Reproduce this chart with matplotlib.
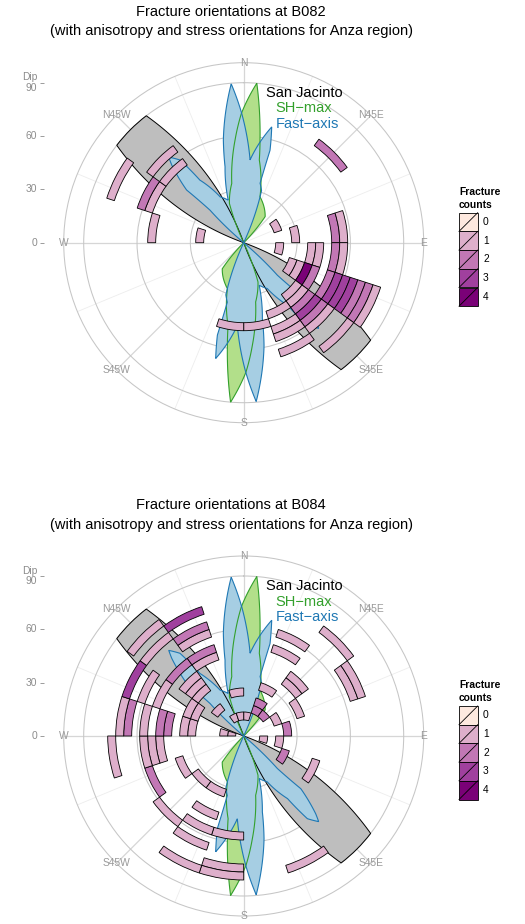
import matplotlib.pyplot as plt
import matplotlib.ticker as mticker
import numpy as np
from matplotlib.patches import Polygon, Rectangle

plt.rcParams['font.family'] = ['Liberation Sans', 'DejaVu Sans']

W_PX, H_PX = 525, 924
R_MAX = 101.25          # outer ring, 90 deg dip sits at 0.4/0.45 of it
STRIKE_BIN = 18.0
DIP_BIN = 4.5

count_levels = [0, 1, 2, 3, 4]
count_colors = ['#FEE9DF', '#DEAFCB', '#C277B5', '#A0409E', '#7A0177']

compass_deg = [0, 45, 90, 135, 180, 225, 270, 315]
compass_lab = ['N', 'N45E', 'E', 'S45E', 'S', 'S45W', 'W', 'N45W']
dip_breaks = [0, 30, 60, 90]
dip_labels = ['0', '30', '60', 'Dip\n90']

# binned fractures: lower edge of strike bin, lower edge of dip bin, count
b082_strike = [36, 54, 72, 72, 72, 90, 90, 90, 90, 90,
               108, 108, 108, 108, 108, 108, 108, 108, 108, 108, 108,
               126, 126, 126, 126, 126, 126, 126,
               144, 144, 144, 144, 162, 180,
               270, 270, 288, 288, 288, 306, 306]
b082_dip = [67.5, 18, 27, 49.5, 54, 18, 36, 40.5, 49.5, 54,
            27, 31.5, 36, 40.5, 49.5, 54, 58.5, 63, 67.5, 72, 76.5,
            36, 40.5, 45, 49.5, 54, 58.5, 72,
            40.5, 49.5, 54, 63, 45, 45,
            22.5, 49.5, 54, 58.5, 76.5, 54, 63]
b082_count = [2, 1, 1, 2, 1, 1, 1, 1, 2, 1,
              1, 1, 4, 2, 2, 3, 3, 3, 2, 2, 1,
              1, 1, 2, 3, 2, 1, 1,
              1, 1, 1, 1, 1, 1,
              1, 1, 1, 2, 1, 1, 1]

b084_strike = [0, 324, 342, 342, 18, 18, 18, 18, 18,
               36, 36, 36, 36, 54, 54, 54, 54, 72, 90, 90, 108, 108, 144,
               180, 180, 180, 198, 198, 198, 198, 198, 216, 216, 234, 234,
               252, 252, 252, 252,
               270, 270, 270, 270, 270, 270, 270, 270, 270,
               288, 288, 288, 288, 288,
               306, 306, 306, 306, 306, 306, 306,
               324, 324, 324, 324, 324]
b084_dip = [9, 9, 9, 22.5, 13.5, 18, 27, 49.5, 58.5,
            13.5, 36, 40.5, 72, 18, 31.5, 63, 67.5, 22.5, 9, 18, 22.5, 40.5, 76.5,
            54, 72, 76.5, 31.5, 45, 54, 63, 76.5, 31.5, 58.5, 36, 54,
            45, 49.5, 54, 72,
            4.5, 9, 27, 31.5, 40.5, 45, 54, 63, 67.5,
            27, 31.5, 49.5, 58.5, 67.5,
            18, 31.5, 36, 40.5, 49.5, 67.5, 76.5,
            45, 49.5, 58.5, 63, 72]
b084_count = [1, 1, 1, 1, 2, 2, 1, 1, 1,
              2, 1, 1, 1, 1, 1, 1, 1, 2, 1, 1, 2, 1, 1,
              1, 1, 1, 1, 1, 1, 1, 1, 1, 1, 1, 2,
              1, 1, 1, 1,
              1, 1, 1, 1, 2, 2, 1, 2, 1,
              1, 1, 1, 1, 3,
              1, 1, 1, 1, 2, 1, 1,
              1, 2, 1, 2, 3]

# regional roses (northern half; orientations are axial so they repeat at +180)
fast_theta = [310, 314, 312.7, 317.2, 318.8, 322.4, 325, 332.8, 340, 346.2,
              348.8, 355.5, 359.1, 364.4, 373.6, 375.9, 375.4, 378.9, 385]
fast_r = [0, 26.3, 43.7, 59.6, 64, 58.7, 43, 29, 25.5, 44,
          58.9, 89.6, 72.8, 46.7, 67, 54, 34.7, 31, 0]
shmax_theta = [335, 340, 348.6, 355.2, 359, 364.7, 368.9, 370.7, 379.5, 399.4, 405]
shmax_r = [0, 23.5, 34, 58, 72.8, 90, 59.4, 47.3, 27.4, 19, 0]

# San Jacinto fault trend wedge
sj_theta = [290, 307.5, 322.5, 340]
sj_r = [0, 90, 90, 0]


def polar_poly(ax, theta_deg, r, **kw):
    xy = np.column_stack([np.deg2rad(theta_deg), r])
    p = Polygon(xy, closed=True, **kw)
    # follow the polar grid between vertices instead of straight chords
    p.get_path()._interpolation_steps = 80
    ax.add_patch(p)
    return p


def draw_panel(fig, canvas, cx, cy, station, strike, dip, count):
    rad = 180.0
    rect = [(cx - rad) / W_PX, 1 - (cy + rad) / H_PX, 2 * rad / W_PX, 2 * rad / H_PX]
    ax = fig.add_axes(rect, projection='polar')
    ax.set_theta_zero_location('N')
    ax.set_theta_direction(-1)
    ax.set_autoscale_on(False)
    ax.set_ylim(0, R_MAX)

    # grid
    ax.set_xticks(np.deg2rad(compass_deg))
    ax.xaxis.set_minor_locator(mticker.FixedLocator(np.deg2rad(np.arange(22.5, 360, 45))))
    ax.set_xticklabels([])
    ax.set_yticks([30, 60, 90])
    ax.set_yticklabels([])
    ax.tick_params(axis='both', which='both', length=0)
    ax.grid(True, which='major', axis='x', color='#D6D6D6', linewidth=0.9)
    ax.grid(True, which='minor', axis='x', color='#EDEDED', linewidth=0.6)
    ax.grid(True, which='major', axis='y', color='#C6C6C6', linewidth=0.75)
    ax.spines['polar'].set_color('#C6C6C6')
    ax.spines['polar'].set_linewidth(0.75)
    ax.set_axisbelow(True)

    for shift in (0, 180):
        polar_poly(ax, np.array(sj_theta) + shift, sj_r, facecolor='#BEBEBE', edgecolor='none', zorder=2)
        polar_poly(ax, np.array(shmax_theta) + shift, shmax_r, facecolor='#B2DF8A', edgecolor='none', zorder=2.1)
        polar_poly(ax, np.array(fast_theta) + shift, fast_r, facecolor='#A6CEE3', edgecolor='none', zorder=2.2)
    for shift in (0, 180):
        polar_poly(ax, np.array(sj_theta) + shift, sj_r, fill=False, edgecolor='black', linewidth=0.7, zorder=3)
        polar_poly(ax, np.array(shmax_theta) + shift, shmax_r, fill=False, edgecolor='#33A02C', linewidth=0.8, zorder=3.1)
        polar_poly(ax, np.array(fast_theta) + shift, fast_r, fill=False, edgecolor='#1F78B4', linewidth=0.8, zorder=3.2)

    # fracture cells
    th = np.deg2rad(np.array(strike) + STRIKE_BIN / 2)
    cols = [count_colors[count_levels.index(c)] for c in count]
    ax.bar(th, DIP_BIN, width=np.deg2rad(STRIKE_BIN), bottom=dip, color=cols,
           edgecolor='black', linewidth=0.6, zorder=6)

    for deg, lab in zip(compass_deg, compass_lab):
        ax.text(np.deg2rad(deg), R_MAX, lab, ha='center', va='center', color='#999999',
                fontsize=7.4, zorder=8, clip_on=False)

    ax.text(np.deg2rad(8.47), 85.1, 'San Jacinto', color='black', fontsize=10.5,
            ha='left', va='center', zorder=9)
    ax.text(np.deg2rad(13.1), 77.6, 'SH\u2212max', color='#33A02C', fontsize=10.5,
            ha='left', va='center', zorder=9)
    ax.text(np.deg2rad(15.2), 69.2, 'Fast\u2212axis', color='#1F78B4', fontsize=10.5,
            ha='left', va='center', zorder=9)
    ax.set_ylim(0, R_MAX)

    # dip axis on the left of the panel
    ax2 = fig.add_axes(rect, facecolor='none')
    ax2.set_ylim(-R_MAX, R_MAX)
    ax2.set_xticks([])
    for side in ['top', 'right', 'bottom']:
        ax2.spines[side].set_visible(False)
    ax2.spines['left'].set_position(('outward', 14.4))
    ax2.spines['left'].set_visible(False)
    ax2.set_yticks(dip_breaks)
    ax2.set_yticklabels(dip_labels, linespacing=1.05)
    ax2.tick_params(axis='y', length=3, width=0.6, colors='#8C8C8C', labelsize=7.4, pad=1.5)
    for t in ax2.get_yticklabels():
        t.set_verticalalignment('center')

    # titles
    canvas.text(231, cy - 231.2, 'Fracture orientations at ' + station, ha='center', va='center',
                fontsize=10.5)
    canvas.text(231, cy - 211.2, '(with anisotropy and stress orientations for Anza region)',
                ha='center', va='center', fontsize=10.5)

    # legend
    canvas.text(459, cy - 50.7, 'Fracture', fontweight='bold', fontsize=7.4, ha='left', va='center')
    canvas.text(459, cy - 37.7, 'counts', fontweight='bold', fontsize=7.4, ha='left', va='center')
    key = 18.7
    for j, (lev, col) in enumerate(zip(count_levels, count_colors)):
        top = cy - 30 + j * key
        canvas.add_patch(Rectangle((459, top), key, key, facecolor=col, edgecolor='black', linewidth=0.6))
        canvas.plot([459, 459 + key], [top + key, top], color='black', linewidth=0.6)
        canvas.text(483, top + key / 2, str(lev), fontsize=7.4, ha='left', va='center')


fig = plt.figure(figsize=(W_PX / 100, H_PX / 100), dpi=100)
canvas = fig.add_axes([0, 0, 1, 1])
canvas.set_xlim(0, W_PX)
canvas.set_ylim(H_PX, 0)
canvas.axis('off')

draw_panel(fig, canvas, 243.7, 242.7, 'B082', b082_strike, b082_dip, b082_count)
draw_panel(fig, canvas, 243.7, 736.0, 'B084', b084_strike, b084_dip, b084_count)

fig.savefig('out.png', dpi=100, facecolor='white')
